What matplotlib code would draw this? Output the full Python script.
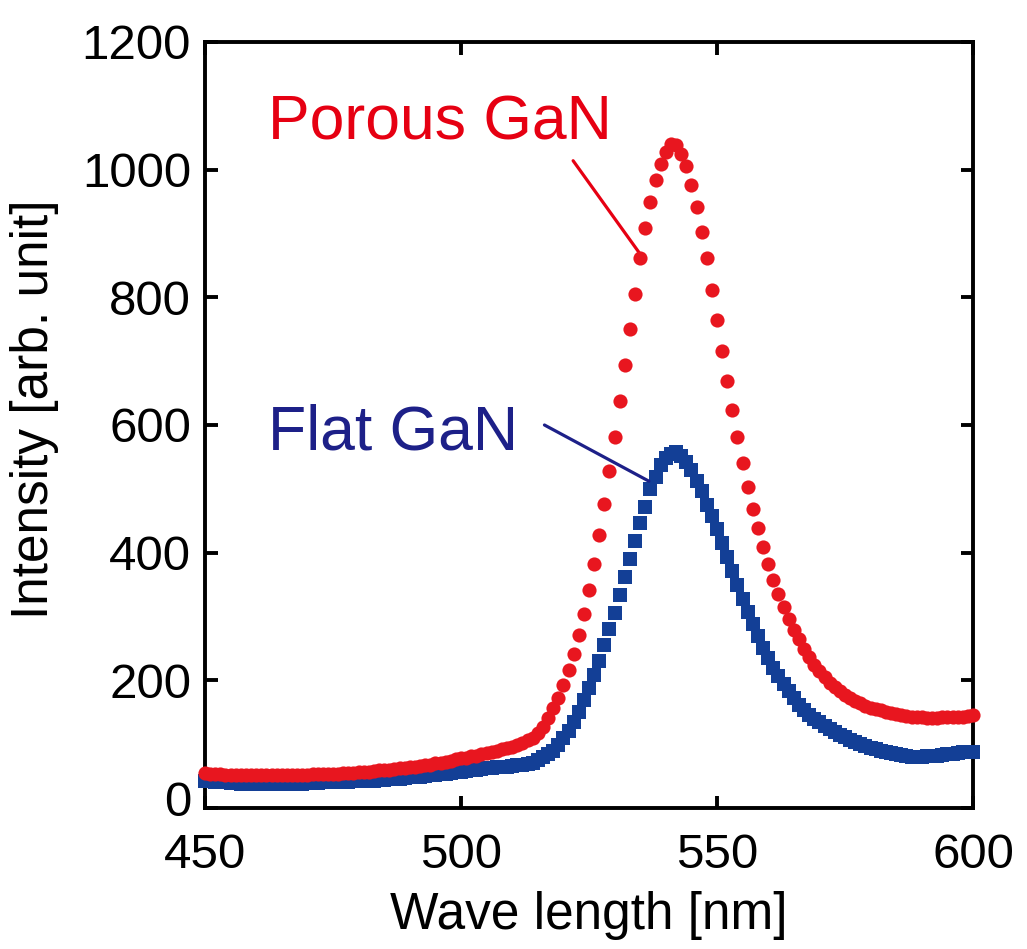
import numpy as np
import matplotlib
matplotlib.use("Agg")
import matplotlib.pyplot as plt
import matplotlib.transforms as mtransforms

plt.rcParams['font.family'] = ['Liberation Sans', 'DejaVu Sans']

# Wavelength grid [nm]
wavelength = np.arange(450, 601)

# Porous GaN intensity (1 nm steps from 450 to 600)
porous = [
    55, 54, 53, 53, 52, 52, 51, 51, 51, 51,          # 450-459
    51, 51, 51, 51, 51, 51, 52, 52, 52, 52,          # 460-469
    52, 53, 53, 53, 54, 54, 54, 55, 55, 55,          # 470-479
    56, 56, 57, 58, 59, 59, 60, 61, 62, 63,          # 480-489
    64, 65, 66, 67, 68, 70, 71, 72, 74, 76,          # 490-499
    78, 79, 81, 82, 84, 86, 88, 90, 92, 94,          # 500-509
    96, 99, 102, 106, 110, 117, 127, 141, 156, 172,  # 510-519
    192, 216, 242, 271, 304, 341, 382, 427, 477, 528,  # 520-529
    581, 637, 694, 751, 806, 861, 909, 950, 984, 1009,  # 530-539
    1028, 1040, 1039, 1025, 1006, 976, 941, 903, 861, 812,  # 540-549
    764, 716, 669, 624, 581, 541, 503, 469, 438, 409,  # 550-559
    382, 357, 335, 315, 296, 279, 264, 249, 236, 224,  # 560-569
    214, 205, 196, 189, 183, 177, 172, 168, 164, 160,  # 570-579
    157, 155, 153, 151, 149, 147, 145, 144, 143, 142,  # 580-589
    142, 141, 141, 141, 142, 142, 142, 143, 143, 144,  # 590-599
    145,                                              # 600
]

# Flat GaN intensity
flat = [
    43, 42, 41, 40, 40, 39, 39, 38, 38, 38,          # 450-459
    38, 38, 38, 38, 38, 38, 38, 38, 38, 38,          # 460-469
    39, 39, 39, 40, 40, 40, 40, 41, 41, 42,          # 470-479
    42, 42, 43, 43, 44, 44, 45, 46, 46, 47,          # 480-489
    48, 48, 49, 50, 51, 52, 53, 54, 55, 56,          # 490-499
    57, 58, 59, 60, 61, 62, 63, 64, 65, 65,          # 500-509
    66, 67, 68, 69, 71, 75, 80, 84, 90, 99,          # 510-519
    109, 121, 134, 151, 169, 188, 209, 231, 255, 280,  # 520-529
    305, 333, 362, 390, 418, 446, 472, 499, 519, 537,  # 530-539
    548, 555, 557, 552, 542, 529, 513, 496, 475, 457,  # 540-549
    437, 415, 393, 371, 349, 328, 307, 289, 269, 251,  # 550-559
    235, 220, 207, 194, 183, 172, 162, 154, 146, 140,  # 560-569
    134, 129, 124, 119, 115, 111, 107, 103, 100, 97,   # 570-579
    94, 92, 90, 88, 86, 84, 83, 81, 80, 80,            # 580-589
    80, 81, 81, 82, 83, 84, 85, 86, 87, 87,            # 590-599
    88,                                               # 600
]

x_ticks = [450, 500, 550, 600]
y_ticks = [0, 200, 400, 600, 800, 1000, 1200]

red = '#e8161f'
blue = '#133f96'
red_text = '#e60012'
blue_text = '#1d2088'

fig = plt.figure(figsize=(10.27, 9.49), dpi=100)
ax = fig.add_axes([205 / 1027, 1 - 808 / 949, 768 / 1027, 766 / 949])

ax.plot(wavelength, flat, linestyle='none', marker='s', markersize=10,
        color=blue, markeredgewidth=0, clip_on=False, zorder=3)
ax.plot(wavelength, porous, linestyle='none', marker='o', markersize=10.2,
        color=red, markeredgewidth=0, clip_on=False, zorder=4)

ax.set_xlim(450, 600)
ax.set_ylim(0, 1200)
ax.set_xticks(x_ticks)
ax.set_yticks(y_ticks)
ax.tick_params(direction='in', length=9, width=2.8, labelsize=35.5,
               top=True, right=True)
ax.tick_params(axis='x', pad=18)
ax.tick_params(axis='y', pad=10)
for sp in ax.spines.values():
    sp.set_linewidth(2.8)

# lift the "0" label a little so it clears the x tick labels
fig.canvas.draw()
zero_lbl = ax.get_yticklabels()[0]
zero_lbl.set_transform(zero_lbl.get_transform() +
                       mtransforms.ScaledTranslation(0, 10 / 100, fig.dpi_scale_trans))

ax.set_xlabel('Wave length [nm]', fontsize=37)
ax.set_ylabel('Intensity [arb. unit]', fontsize=37)
ax.xaxis.set_label_coords(0.5, -0.108)
ax.yaxis.set_label_coords(-0.19, 0.52)

# Labels and leader lines
ax.text(462.3, 1048, 'Porous GaN', color=red_text, fontsize=45, va='baseline', ha='left')
ax.text(462.3, 562, 'Flat GaN', color=blue_text, fontsize=45, va='baseline', ha='left')
ax.annotate('', xy=(535.6, porous[85]), xytext=(521.9, 1014),
            arrowprops=dict(arrowstyle='-', color=red_text, lw=2.3,
                            shrinkA=0, shrinkB=0))
ax.annotate('', xy=(536.7, 512), xytext=(516.3, 600),
            arrowprops=dict(arrowstyle='-', color=blue_text, lw=2.3,
                            shrinkA=0, shrinkB=0))

fig.savefig('out.png', dpi=100)
